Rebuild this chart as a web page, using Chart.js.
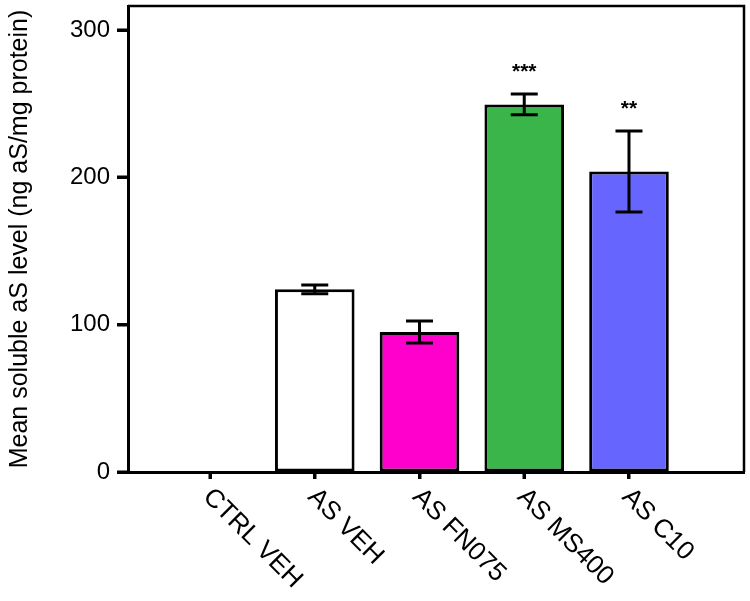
<!DOCTYPE html>
<html>
<head>
<meta charset="utf-8">
<script src="https://cdn.jsdelivr.net/npm/chart.js@4"></script>
<style>
  html, body { margin: 0; padding: 0; background: #fff; }
  #chart { display: block; }
</style>
</head>
<body>
<canvas id="chart" width="750" height="601"></canvas>
<script>
  // ===== Data =====
  const groups = ['CTRL VEH', 'AS VEH', 'AS FN075', 'AS MS400', 'AS C10'];
  const means = [0, 124, 95, 249.5, 204];
  const errors = [0, 3, 7.5, 7, 27.5];
  const stars = ['', '', '', '***', '**'];
  const yTicks = [0, 100, 200, 300];
  const fillColors = ['#ffffff', '#ffffff', '#ff00cc', '#39b54a', '#6666ff'];

  const FONT = '"Liberation Sans", Arial, Helvetica, sans-serif';

  // ===== Plugins =====
  // frame round the plot area (top + right sides) and the outward tick marks
  const framePlugin = {
    id: 'frame',
    afterDraw(chart){
      const { ctx, chartArea: a } = chart;
      const x = chart.scales.x, y = chart.scales.y;
      ctx.save();
      ctx.strokeStyle = '#000';
      ctx.lineWidth = 2.5;
      ctx.beginPath();
      ctx.moveTo(a.left, a.top);
      ctx.lineTo(a.right, a.top);
      ctx.lineTo(a.right, a.bottom);
      ctx.stroke();

      ctx.fillStyle = '#000';
      yTicks.forEach(v => {
        const py = Math.round(y.getPixelForValue(v));
        ctx.fillRect(a.left - 11, py - 1.5, 11, 3);
      });
      groups.forEach((g, i) => {
        const px = Math.round(x.getPixelForValue(i));
        ctx.fillRect(px - 1.5, a.bottom, 3, 7);
      });
      ctx.restore();
    }
  };

  // error bars + significance stars
  const errorBarPlugin = {
    id: 'errorBars',
    afterDatasetsDraw(chart){
      const { ctx } = chart;
      const y = chart.scales.y;
      const meta = chart.getDatasetMeta(0);
      ctx.save();
      ctx.strokeStyle = '#000';
      ctx.lineWidth = 3;
      meta.data.forEach((bar, i) => {
        const e = errors[i];
        const yTop = y.getPixelForValue(means[i] + e);
        if (e > 0) {
          const yBot = y.getPixelForValue(means[i] - e);
          const half = 13.5;
          ctx.beginPath();
          ctx.moveTo(bar.x, yBot); ctx.lineTo(bar.x, yTop);
          ctx.moveTo(bar.x - half, yTop); ctx.lineTo(bar.x + half, yTop);
          ctx.moveTo(bar.x - half, yBot); ctx.lineTo(bar.x + half, yBot);
          ctx.stroke();
        }
        if (stars[i]) {
          ctx.fillStyle = '#000';
          ctx.font = 'bold 21px ' + FONT;
          ctx.textAlign = 'center';
          ctx.textBaseline = 'alphabetic';
          ctx.fillText(stars[i], bar.x, yTop - 16);
        }
      });
      ctx.restore();
    }
  };

  // rotated category labels (running down to the right)
  const xLabelPlugin = {
    id: 'xLabels',
    afterDraw(chart){
      const { ctx } = chart;
      const x = chart.scales.x;
      ctx.save();
      ctx.fillStyle = '#000';
      ctx.font = '26px ' + FONT;
      ctx.textAlign = 'left';
      ctx.textBaseline = 'middle';
      groups.forEach((g, i) => {
        const px = x.getPixelForValue(i);
        ctx.save();
        ctx.translate(px - 3, x.top + 21);
        ctx.rotate(Math.PI / 4);
        ctx.fillText(g, 0, 0);
        ctx.restore();
      });
      ctx.restore();
    }
  };

  // ===== Chart =====
  new Chart(document.getElementById('chart'), {
    type: 'bar',
    data: {
      datasets: [{
        data: means.map((v, i) => ({ x: i, y: v })),
        backgroundColor: fillColors,
        borderColor: '#000',
        borderWidth: 3,
        borderSkipped: false,
        categoryPercentage: 1,
        barPercentage: 0.76
      }]
    },
    options: {
      responsive: false,
      animation: false,
      layout: { padding: { top: 6, right: 6, left: 0, bottom: 0 } },
      plugins: {
        legend: { display: false },
        tooltip: { enabled: false }
      },
      scales: {
        x: {
          type: 'linear',
          offset: false,
          min: -0.783,
          max: 5.098,
          afterBuildTicks(s){ s.ticks = groups.map((g, i) => ({ value: i })); },
          afterFit(s){ s.height = 129; s.paddingLeft = 0; s.paddingRight = 0; },
          ticks: { display: false },
          grid: { offset: false, drawOnChartArea: false, drawTicks: true, tickLength: 7, tickWidth: 3, tickColor: '#000' },
          border: { display: true, color: '#000', width: 3 }
        },
        y: {
          min: 0,
          max: 316.3,
          afterBuildTicks(s){ s.ticks = yTicks.map(v => ({ value: v })); },
          afterFit(s){ s.width = 128; s.paddingTop = 0; s.paddingBottom = 0; },
          ticks: {
            color: '#000',
            padding: 7,
            font: { family: FONT, size: 24 }
          },
          grid: { drawOnChartArea: false, drawTicks: true, tickLength: 11, tickWidth: 3, tickColor: '#000' },
          border: { display: true, color: '#000', width: 3 },
          title: {
            display: true,
            text: 'Mean soluble aS level (ng aS/mg protein)',
            color: '#000',
            font: { family: FONT, size: 25 },
            padding: { top: 5, bottom: 0 }
          }
        }
      }
    },
    plugins: [framePlugin, errorBarPlugin, xLabelPlugin]
  });
</script>
</body>
</html>
